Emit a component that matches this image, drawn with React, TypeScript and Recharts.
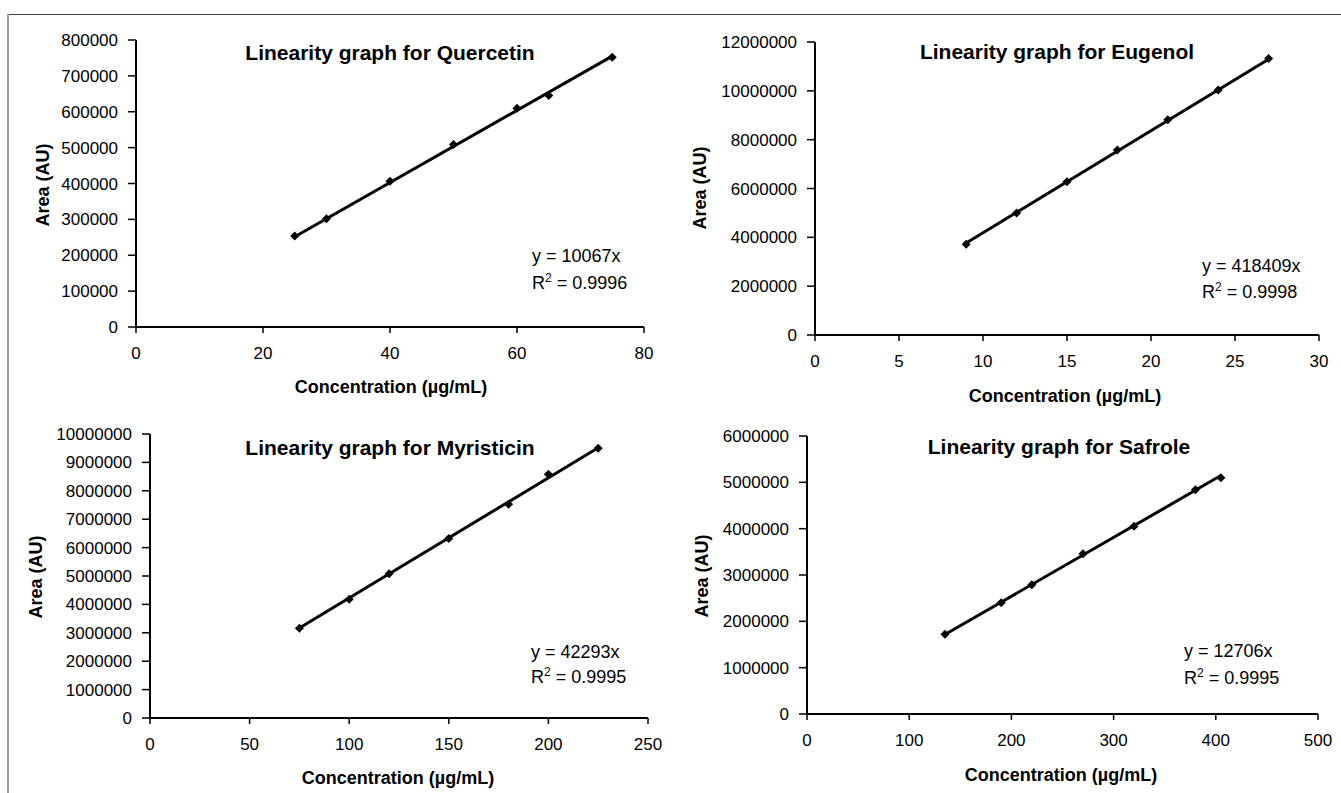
import React from 'react'
import { ScatterChart, Scatter, XAxis, YAxis } from 'recharts'

// values
const quercetinConc = [25, 30, 40, 50, 60, 65, 75]
const quercetinArea = [254000, 302000, 406000, 509000, 610000, 645000, 752000]
const quercetinTrend = [251700, 755000] // trendline at first / last conc

const eugenolConc = [9, 12, 15, 18, 21, 24, 27]
const eugenolArea = [3720000, 5000000, 6280000, 7580000, 8820000, 10030000, 11320000]
const eugenolTrend = [3765700, 11297000]

const myristicinConc = [75, 100, 120, 150, 180, 200, 225]
const myristicinArea = [3160000, 4180000, 5080000, 6320000, 7530000, 8580000, 9500000]
const myristicinTrend = [3172000, 9516000]

const safroleConc = [135, 190, 220, 270, 320, 380, 405]
const safroleArea = [1720000, 2400000, 2790000, 3460000, 4050000, 4840000, 5100000]
const safroleTrend = [1715300, 5146000]

const quercetinXTicks = [0, 20, 40, 60, 80]
const quercetinYTicks = [0, 100000, 200000, 300000, 400000, 500000, 600000, 700000, 800000]
const eugenolXTicks = [0, 5, 10, 15, 20, 25, 30]
const eugenolYTicks = [0, 2000000, 4000000, 6000000, 8000000, 10000000, 12000000]
const myristicinXTicks = [0, 50, 100, 150, 200, 250]
const myristicinYTicks = [0, 1000000, 2000000, 3000000, 4000000, 5000000, 6000000, 7000000, 8000000, 9000000, 10000000]
const safroleXTicks = [0, 100, 200, 300, 400, 500]
const safroleYTicks = [0, 1000000, 2000000, 3000000, 4000000, 5000000, 6000000]

const FONT = '"Liberation Sans", Arial, sans-serif'

const Diamond = (props: any) => {
  const { cx, cy } = props
  if (cx == null || cy == null) return <g />
  const s = 4.5
  return <polygon points={`${cx},${cy - s} ${cx + s},${cy} ${cx},${cy + s} ${cx - s},${cy}`} fill="#000" />
}

interface PanelProps {
  left: number
  top: number
  width: number
  height: number
  margin: { top: number; right: number; bottom: number; left: number }
  conc: number[]
  area: number[]
  trend: number[]
  xTicks: number[]
  yTicks: number[]
  title: string
  titlePos: [number, number]
  yLabelPos: [number, number]
  xLabelPos: [number, number]
  eqPos: [number, number, number]
  slope: string
  r2: string
}

const abs = (x: number, y: number): React.CSSProperties => ({
  position: 'absolute', left: x, top: y, transform: 'translate(-50%, -50%)', whiteSpace: 'nowrap',
})

function Panel(p: PanelProps) {
  const points = p.conc.map((c, i) => ({ x: c, y: p.area[i] }))
  const trendPts = [
    { x: p.conc[0], y: p.trend[0] },
    { x: p.conc[p.conc.length - 1], y: p.trend[1] },
  ]
  const xMax = p.xTicks[p.xTicks.length - 1]
  const yMax = p.yTicks[p.yTicks.length - 1]

  return (
    <>
      <div style={{ position: 'absolute', left: p.left, top: p.top }}>
        <ScatterChart width={p.width} height={p.height} margin={p.margin}>
          <XAxis
            type="number" dataKey="x" domain={[0, xMax]} ticks={p.xTicks} interval={0}
            height={30} tickSize={6} tickMargin={14}
            axisLine={{ stroke: '#000', strokeWidth: 2 }}
            tickLine={{ stroke: '#000', strokeWidth: 1.5 }}
            tick={{ fontSize: 17, fill: '#000', fontFamily: FONT }}
          />
          <YAxis
            type="number" dataKey="y" domain={[0, yMax]} ticks={p.yTicks} interval={0}
            width={100} tickSize={8} tickMargin={10}
            axisLine={{ stroke: '#000', strokeWidth: 2 }}
            tickLine={{ stroke: '#000', strokeWidth: 1.5 }}
            tick={{ fontSize: 17, fill: '#000', fontFamily: FONT }}
          />
          <Scatter data={trendPts} line={{ stroke: '#000', strokeWidth: 3 }} shape={() => <g />} isAnimationActive={false} />
          <Scatter data={points} shape={Diamond} isAnimationActive={false} />
        </ScatterChart>
      </div>
      <div style={{ ...abs(p.titlePos[0], p.titlePos[1]), fontSize: 21, fontWeight: 'bold' }}>{p.title}</div>
      <div style={{ ...abs(p.yLabelPos[0], p.yLabelPos[1]), transform: 'translate(-50%, -50%) rotate(-90deg)', fontSize: 18, fontWeight: 'bold' }}>
        Area (AU)
      </div>
      <div style={{ ...abs(p.xLabelPos[0], p.xLabelPos[1]), fontSize: 18, fontWeight: 'bold' }}>Concentration (µg/mL)</div>
      <div style={{ position: 'absolute', left: p.eqPos[0], top: p.eqPos[1] - 11, fontSize: 18, lineHeight: '22px', whiteSpace: 'nowrap' }}>
        y = {p.slope}x
      </div>
      <div style={{ position: 'absolute', left: p.eqPos[0], top: p.eqPos[2] - 11, fontSize: 18, lineHeight: '22px', whiteSpace: 'nowrap' }}>
        R<sup style={{ fontSize: 12, verticalAlign: 'top', lineHeight: '12px' }}>2</sup> = {p.r2}
      </div>
    </>
  )
}

export default function App() {
  return (
    <div style={{ position: 'absolute', left: 0, top: 0, width: 1341, height: 793, background: '#fff', fontFamily: FONT, color: '#000', overflow: 'hidden' }}>
      {/* frame edges */}
      <div style={{ position: 'absolute', left: 7, top: 14, right: 0, height: 0, borderTop: '1.5px solid #444' }} />
      <div style={{ position: 'absolute', left: 7, top: 14, bottom: 0, width: 0, borderLeft: '2px solid #999' }} />

      <Panel
        left={0} top={0} width={670} height={400}
        margin={{ top: 40, right: 26, bottom: 43, left: 36 }}
        conc={quercetinConc} area={quercetinArea} trend={quercetinTrend}
        xTicks={quercetinXTicks} yTicks={quercetinYTicks}
        title="Linearity graph for Quercetin" titlePos={[390, 53]}
        yLabelPos={[43, 185]} xLabelPos={[391, 387]}
        eqPos={[532, 256, 283]} slope="10067" r2="0.9996"
      />
      <Panel
        left={670} top={0} width={671} height={410}
        margin={{ top: 42, right: 22, bottom: 45, left: 45 }}
        conc={eugenolConc} area={eugenolArea} trend={eugenolTrend}
        xTicks={eugenolXTicks} yTicks={eugenolYTicks}
        title="Linearity graph for Eugenol" titlePos={[1057, 52]}
        yLabelPos={[700, 188]} xLabelPos={[1065, 396]}
        eqPos={[1202, 266, 292]} slope="418409" r2="0.9998"
      />
      <Panel
        left={0} top={400} width={670} height={393}
        margin={{ top: 34, right: 22, bottom: 45, left: 50 }}
        conc={myristicinConc} area={myristicinArea} trend={myristicinTrend}
        xTicks={myristicinXTicks} yTicks={myristicinYTicks}
        title="Linearity graph for Myristicin" titlePos={[390, 448]}
        yLabelPos={[36, 577]} xLabelPos={[398, 778]}
        eqPos={[531, 652, 677]} slope="42293" r2="0.9995"
      />
      <Panel
        left={670} top={410} width={671} height={383}
        margin={{ top: 26, right: 23, bottom: 49, left: 37 }}
        conc={safroleConc} area={safroleArea} trend={safroleTrend}
        xTicks={safroleXTicks} yTicks={safroleYTicks}
        title="Linearity graph for Safrole" titlePos={[1059, 447]}
        yLabelPos={[702, 576]} xLabelPos={[1061, 775]}
        eqPos={[1184, 651, 678]} slope="12706" r2="0.9995"
      />
    </div>
  )
}
